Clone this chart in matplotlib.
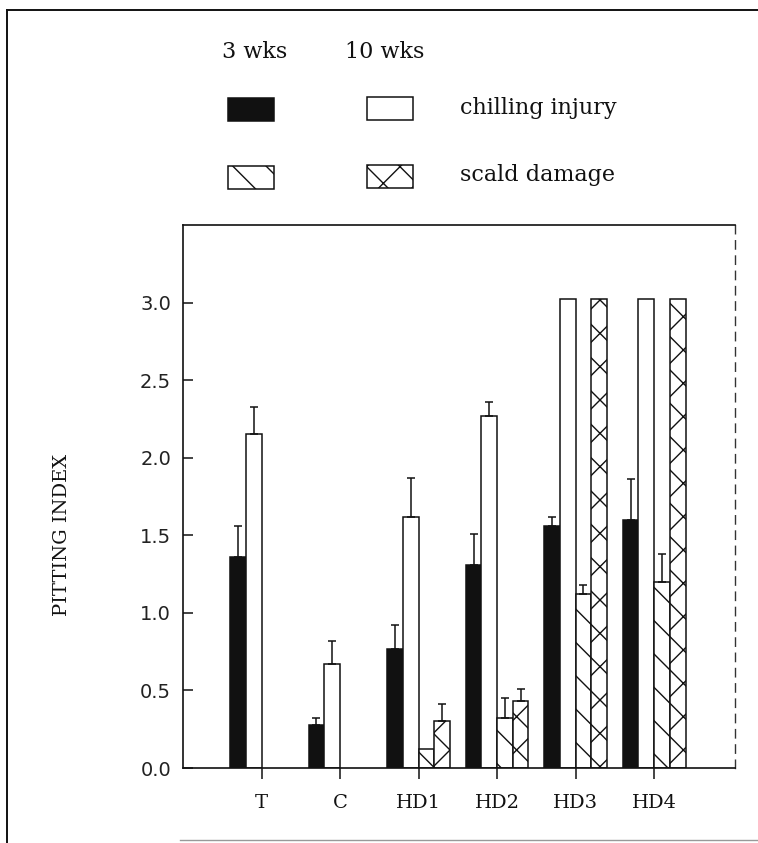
import matplotlib
matplotlib.use("Agg")
import matplotlib.pyplot as plt
from matplotlib.patches import Rectangle
from matplotlib.lines import Line2D
import numpy as np

# ---- data ----
categories = ["T", "C", "HD1", "HD2", "HD3", "HD4"]
chill_3wk = [1.36, 0.28, 0.77, 1.31, 1.56, 1.60]
chill_3wk_err = [0.20, 0.04, 0.15, 0.20, 0.06, 0.26]
chill_10wk = [2.15, 0.67, 1.62, 2.27, 3.02, 3.02]
chill_10wk_err = [0.18, 0.15, 0.25, 0.09, 0.0, 0.0]
scald_3wk = [0.0, 0.0, 0.12, 0.32, 1.12, 1.20]
scald_3wk_err = [0.0, 0.0, 0.0, 0.13, 0.06, 0.18]
scald_10wk = [0.0, 0.0, 0.30, 0.43, 3.02, 3.02]
scald_10wk_err = [0.0, 0.0, 0.11, 0.08, 0.0, 0.0]
yticks = [0.0, 0.5, 1.0, 1.5, 2.0, 2.5, 3.0]
ytick_labels = ["0.0", "0.5", "1.0", "1.5", "2.0", "2.5", "3.0"]

W, H = 758, 843
fig = plt.figure(figsize=(W / 100, H / 100), dpi=100)
fig.patch.set_facecolor("white")

def fx(px):
    return px / W

def fy(py):
    return 1 - py / H

ax = fig.add_axes([fx(183), fy(768), fx(735) - fx(183), fy(225) - fy(768)])

x = np.arange(1, len(categories) + 1)
bw = 0.2
ink = "#111111"
lw = 1.1

series = [
    (chill_3wk, chill_3wk_err, -1.5, ink, None),
    (chill_10wk, chill_10wk_err, -0.5, "white", None),
    (scald_3wk, scald_3wk_err, 0.5, "white", "\\"),
    (scald_10wk, scald_10wk_err, 1.5, "white", "x"),
]
for vals, errs, off, fc, hatch in series:
    vals = np.array(vals)
    errs = np.array(errs)
    pos = x + off * bw
    mask = vals > 0
    ax.bar(pos[mask], vals[mask], width=bw, facecolor=fc, edgecolor=ink,
           linewidth=lw, hatch=hatch, zorder=2)
    em = errs > 0
    ax.errorbar(pos[em], vals[em], yerr=[np.zeros(em.sum()), errs[em]],
                fmt="none", ecolor=ink, elinewidth=1.1, capsize=3,
                capthick=1.1, zorder=3)

ax.set_xlim(0, 7.03)
ax.set_ylim(0, 3.5)
ax.set_yticks(yticks)
ax.set_yticklabels(ytick_labels, family="DejaVu Sans", fontsize=14, color="#222222")
ax.set_xticks(x)
ax.set_xticklabels(categories, family="DejaVu Serif", fontsize=14, color="#111111")
ax.tick_params(axis="y", direction="in", length=7, width=1.1, pad=8.5, colors=ink,
               labelcolor="#222222")
ax.tick_params(axis="x", direction="out", length=8, width=1.1, pad=11, colors=ink)

for s in ["left", "bottom", "top"]:
    ax.spines[s].set_linewidth(1.2)
    ax.spines[s].set_color(ink)
ax.spines["right"].set_linewidth(1.0)
ax.spines["right"].set_color("#333333")
ax.spines["right"].set_linestyle((0, (6, 5)))

fig.text(fx(62), fy(535), "PITTING INDEX", rotation=90, ha="center", va="center",
         family="DejaVu Serif", fontsize=14, color=ink)

# ---- legend (drawn as figure artists) ----
tfont = dict(family="DejaVu Serif", fontsize=16, color=ink)
fig.text(fx(255), fy(52), "3 wks", ha="center", va="center", **tfont)
fig.text(fx(385), fy(52), "10 wks", ha="center", va="center", **tfont)
fig.text(fx(460), fy(108), "chilling injury", ha="left", va="center", **tfont)
fig.text(fx(460), fy(175), "scald damage", ha="left", va="center", **tfont)

keys = [
    (228, 98, ink, None),
    (367, 97, "white", None),
    (228, 166, "white", "\\"),
    (367, 165, "white", "x"),
]
for kx, ky, fc, hatch in keys:
    r = Rectangle((fx(kx), fy(ky + 23)), 46 / W, 23 / H, transform=fig.transFigure,
                  facecolor=fc, edgecolor=ink, linewidth=1.1, hatch=hatch)
    fig.add_artist(r)

# ---- page border ----
fig.add_artist(Line2D([fx(7), fx(7)], [fy(10), 0], transform=fig.transFigure,
                      color=ink, linewidth=1.4))
fig.add_artist(Line2D([fx(7), 1], [fy(10), fy(10)], transform=fig.transFigure,
                      color=ink, linewidth=1.4))
fig.add_artist(Line2D([fx(180), 1], [fy(840), fy(840)], transform=fig.transFigure,
                      color="#999999", linewidth=1.0))

fig.savefig("out.png", dpi=100, facecolor="white")
